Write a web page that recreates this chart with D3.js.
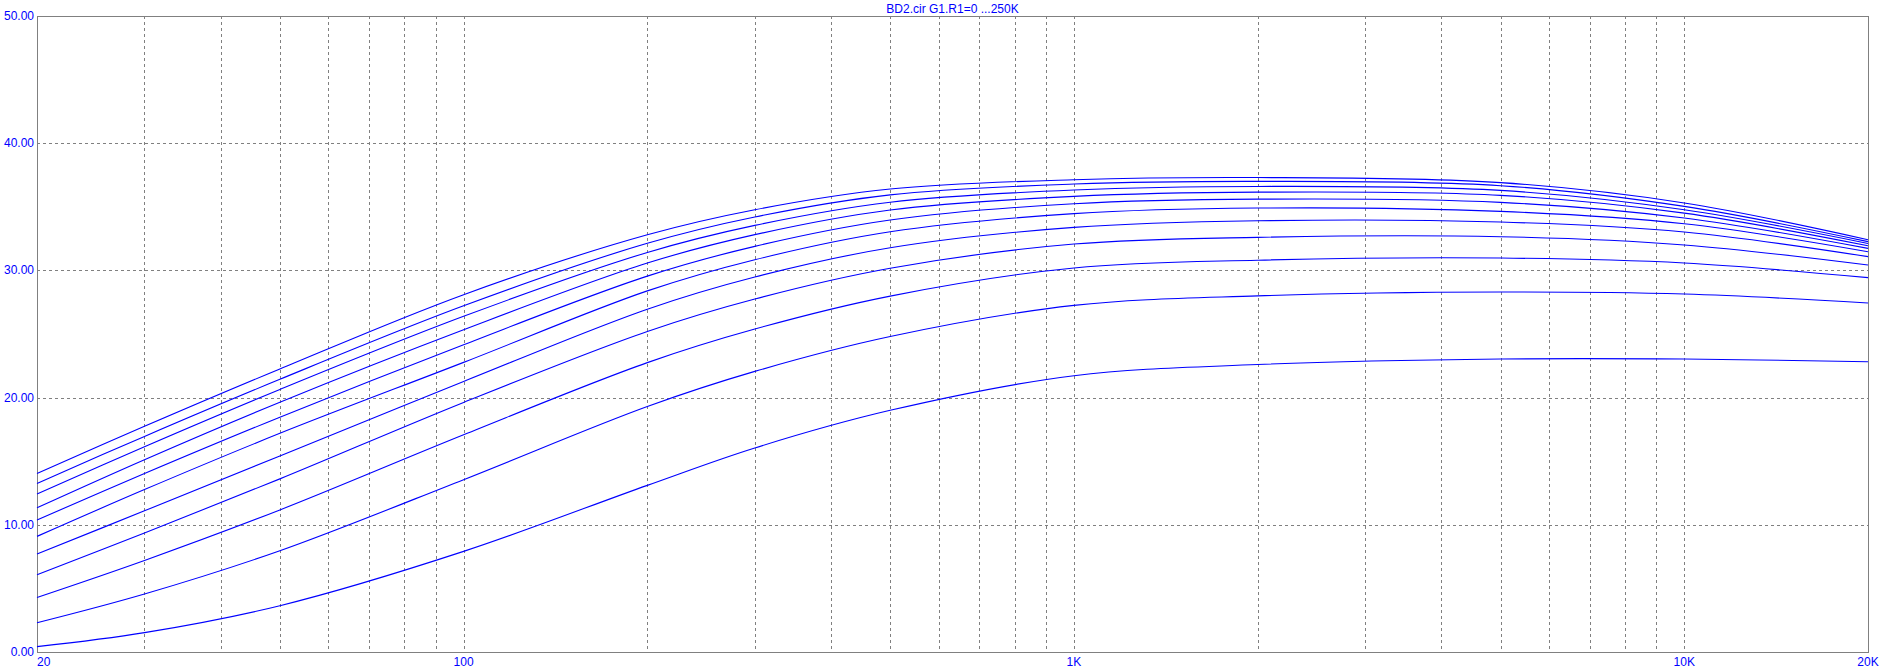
<!DOCTYPE html>
<html>
<head>
<meta charset="utf-8">
<script src="https://cdn.jsdelivr.net/npm/d3@7"></script>
<style>
  html, body { margin: 0; padding: 0; background: #ffffff; }
  svg { display: block; }
  text { font-family: "Liberation Sans", Arial, sans-serif; font-size: 12px; fill: #0000ff; }
</style>
</head>
<body>
<svg id="chart" width="1881" height="672"></svg>
<script>
// ---- data ----
const title = "BD2.cir G1.R1=0 ...250K";
const freqs = [20, 30, 50, 100, 200, 300, 500, 1000, 2000, 5000, 10000, 20000];
// curves, bottom to top (dB)
const curve1  = [0.42, 1.52, 3.64, 7.91, 13.1, 16.04, 19.0, 21.72, 22.6, 23.03, 23.03, 22.82];
const curve2  = [2.30, 4.56, 7.96, 13.55, 19.3, 22.06, 24.8, 27.25, 28.0, 28.3, 28.14, 27.44];
const curve3  = [4.29, 7.2, 11.17, 17.08, 22.75, 25.39, 27.98, 30.19, 30.8, 30.97, 30.58, 29.43];
const curve4  = [6.08, 9.35, 13.61, 19.62, 25.2, 27.75, 30.17, 32.07, 32.6, 32.65, 32.0, 30.42];
const curve5  = [7.70, 11.1, 15.41, 21.27, 26.95, 29.48, 31.78, 33.38, 33.9, 33.8, 33.02, 31.08];
const curve6  = [9.09, 12.77, 17.19, 22.77, 28.39, 30.84, 33.04, 34.46, 34.9, 34.64, 33.67, 31.47];
const curve7  = [10.38, 14.03, 18.46, 24.16, 29.55, 31.89, 33.96, 35.24, 35.6, 35.35, 34.12, 31.73];
const curve8  = [11.34, 15.12, 19.64, 25.34, 30.58, 32.81, 34.75, 35.82, 36.15, 35.9, 34.5, 31.94];
const curve9  = [12.42, 16.14, 20.64, 26.39, 31.41, 33.54, 35.36, 36.32, 36.6, 36.29, 34.77, 32.12];
const curve10 = [13.25, 16.95, 21.44, 27.22, 32.13, 34.2, 35.94, 36.79, 37.0, 36.66, 35.03, 32.26];
const curve11 = [14.04, 17.74, 22.25, 28.09, 32.8, 34.77, 36.4, 37.13, 37.3, 36.9, 35.3, 32.41];
const curves = [curve1, curve2, curve3, curve4, curve5, curve6, curve7, curve8, curve9, curve10, curve11];

const yTicks = [0, 10, 20, 30, 40, 50];
const yTickLabels = ["0.00", "10.00", "20.00", "30.00", "40.00", "50.00"];
const xGridFreqs = [30,40,50,60,70,80,90,100,200,300,400,500,600,700,800,900,1000,
                    2000,3000,4000,5000,6000,7000,8000,9000,10000];
const xLabelFreqs = [20, 100, 1000, 10000, 20000];
const xLabels = ["20", "100", "1K", "10K", "20K"];

// ---- layout ----
const svg = d3.select("#chart");
const pLeft = 37, pRight = 1868, pTop = 16, pBottom = 652;

const x = d3.scaleLog().domain([20, 20000]).range([pLeft, pRight]);
const y = d3.scaleLinear().domain([0, 50]).range([pBottom, pTop]);

const grid = svg.append("g")
  .attr("stroke", "#808080").attr("stroke-width", 1)
  .attr("stroke-dasharray", "3,3").attr("shape-rendering", "crispEdges");

grid.selectAll("line.v").data(xGridFreqs).join("line")
  .attr("x1", d => Math.round(x(d)) + 0.5).attr("x2", d => Math.round(x(d)) + 0.5)
  .attr("y1", pTop).attr("y2", pBottom);

grid.selectAll("line.h").data(yTicks.filter(d => d > 0 && d < 50)).join("line")
  .attr("x1", pLeft).attr("x2", pRight)
  .attr("y1", d => Math.round(y(d)) + 0.5).attr("y2", d => Math.round(y(d)) + 0.5);

// frame
svg.append("rect")
  .attr("x", pLeft + 0.5).attr("y", pTop + 0.5)
  .attr("width", pRight - pLeft).attr("height", pBottom - pTop)
  .attr("fill", "none").attr("stroke", "#808080").attr("stroke-width", 1)
  .attr("shape-rendering", "crispEdges");

// curves
const line = d3.line()
  .x(d => x(d[0])).y(d => y(d[1]))
  .curve(d3.curveCatmullRom.alpha(0.5));

svg.append("g").selectAll("path").data(curves).join("path")
  .attr("d", c => line(freqs.map((f, i) => [f, c[i]])))
  .attr("fill", "none").attr("stroke", "#0000ff").attr("stroke-width", 1.1);

// y labels
svg.append("g").selectAll("text").data(yTicks).join("text")
  .attr("x", 34).attr("y", d => y(d))
  .attr("text-anchor", "end").attr("dominant-baseline", "central")
  .text((d, i) => yTickLabels[i]);

// x labels
svg.append("g").selectAll("text").data(xLabelFreqs).join("text")
  .attr("x", d => x(d)).attr("y", 666)
  .attr("text-anchor", (d, i) => i === 0 ? "start" : "middle")
  .text((d, i) => xLabels[i]);

// title
svg.append("text")
  .attr("x", (pLeft + pRight) / 2).attr("y", 12.5)
  .attr("text-anchor", "middle")
  .text(title);
</script>
</body>
</html>
